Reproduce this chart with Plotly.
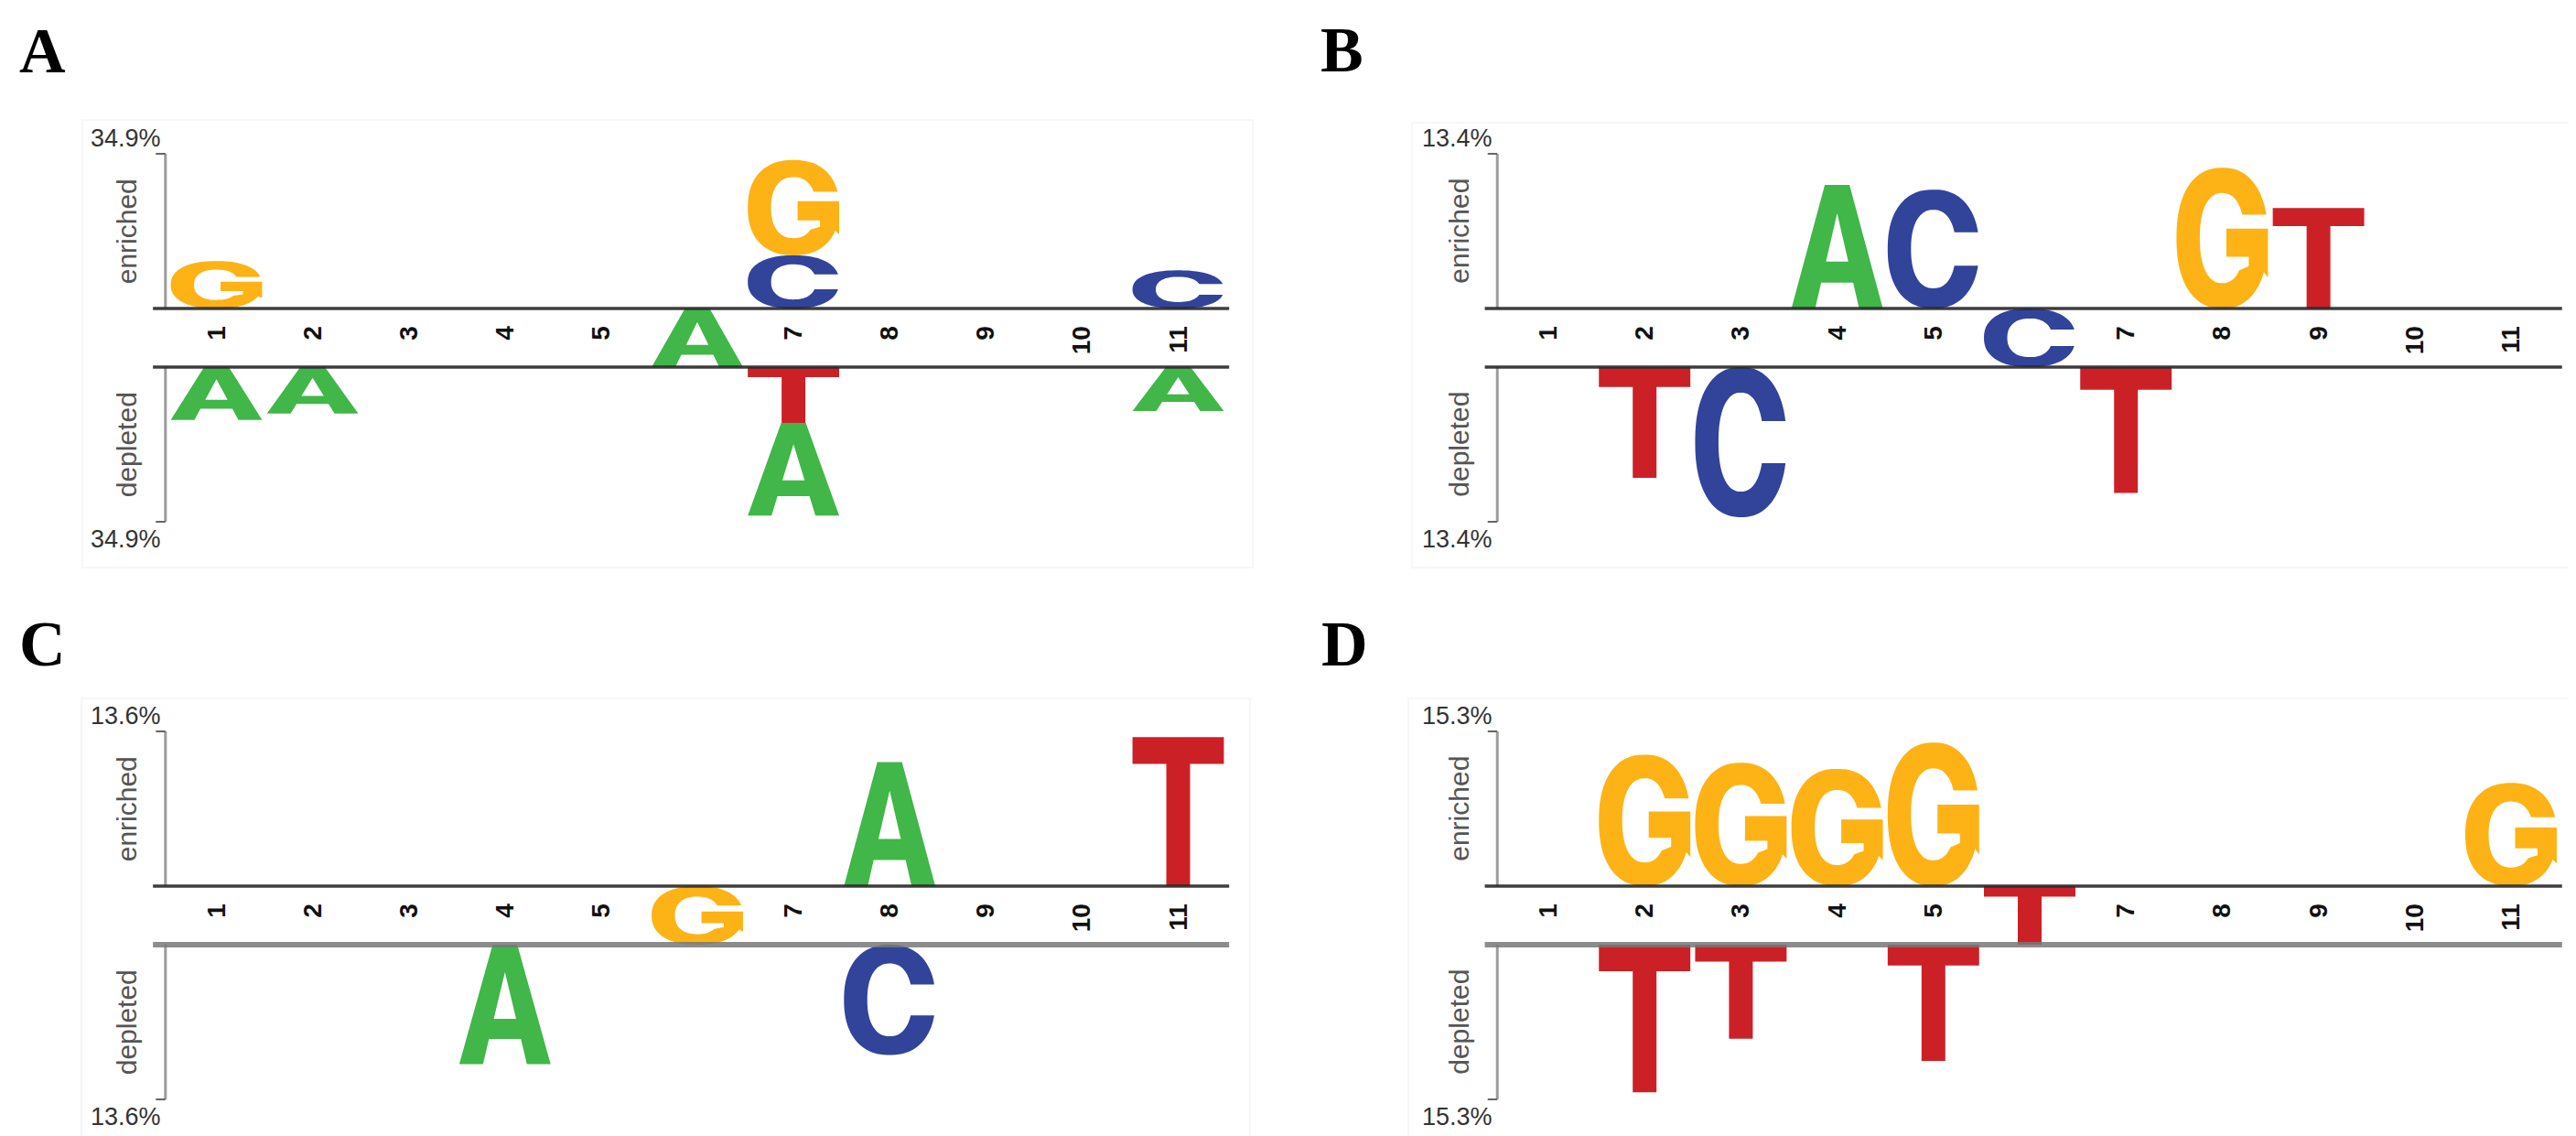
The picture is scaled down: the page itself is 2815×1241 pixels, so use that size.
import numpy as np
import plotly.graph_objects as go

# ---------------- data ----------------
positions = list(range(1, 12))
tick_labels = [str(p) for p in positions]
panel_letters = ["A", "B", "C", "D"]
scale_max = [34.9, 13.4, 13.6, 15.3]
scale_text = ["34.9%", "13.4%", "13.6%", "15.3%"]
fixed_pos = 6
fixed_res = ["A", "C", "G", "T"]

a_up_pos = [1, 7, 7, 11]
a_up_res = ["G", "C", "G", "C"]
a_up_val = [10.7, 12.0, 21.5, 8.6]
a_dn_pos = [1, 2, 7, 7, 11]
a_dn_res = ["A", "A", "T", "A", "A"]
a_dn_val = [11.9, 10.5, 12.6, 20.9, 9.9]

b_up_pos = [4, 5, 8, 9]
b_up_res = ["A", "C", "G", "T"]
b_up_val = [10.7, 10.3, 12.2, 8.7]
b_dn_pos = [2, 3, 7]
b_dn_res = ["T", "C", "T"]
b_dn_val = [9.6, 13.0, 10.9]

c_up_pos = [8, 11]
c_up_res = ["A", "T"]
c_up_val = [10.9, 13.1]
c_dn_pos = [4, 8]
c_dn_res = ["A", "C"]
c_dn_val = [10.5, 9.7]

d_up_pos = [2, 3, 4, 5, 11]
d_up_res = ["G", "G", "G", "G", "G"]
d_up_val = [13.0, 12.2, 11.6, 14.2, 10.2]
d_dn_pos = [2, 3, 5]
d_dn_res = ["T", "T", "T"]
d_dn_val = [14.6, 9.3, 11.5]

enriched = [(a_up_pos, a_up_res, a_up_val), (b_up_pos, b_up_res, b_up_val),
            (c_up_pos, c_up_res, c_up_val), (d_up_pos, d_up_res, d_up_val)]
depleted = [(a_dn_pos, a_dn_res, a_dn_val), (b_dn_pos, b_dn_res, b_dn_val),
            (c_dn_pos, c_dn_res, c_dn_val), (d_dn_pos, d_dn_res, d_dn_val)]

colors = {"A": "#41b649", "C": "#32439a", "G": "#fdb316", "T": "#cc2027"}

# ---------------- glyph templates (unit box) ----------------
NEXP = 2.3


def se(rx, ry, t):
    c, s = np.cos(t), np.sin(t)
    return (0.5 + rx * np.sign(c) * np.abs(c) ** (2 / NEXP),
            0.5 + ry * np.sign(s) * np.abs(s) ** (2 / NEXP))


def se_angle(r, dy):
    return float(np.arcsin(min(1.0, dy / r) ** (NEXP / 2)))


def glyph(res):
    if res == "T":
        return [(np.array([0, 1, 1, 0.63, 0.63, 0.37, 0.37, 0]),
                 np.array([1, 1, 0.82, 0.82, 0, 0, 0.82, 0.82]))]
    if res == "A":
        outer = (np.array([0, 0.365, 0.635, 1, 0.74, 0.675, 0.325, 0.26]),
                 np.array([0, 1, 1, 0, 0, 0.21, 0.21, 0]))
        hole = (np.array([0.378, 0.5, 0.622]), np.array([0.38, 0.77, 0.38]))
        return [outer, hole]
    if res == "C":
        to = se_angle(0.5, 0.14)
        ti = se_angle(0.33, 0.14)
        ox, oy = se(0.5, 0.5, np.linspace(to, 2 * np.pi - to, 90))
        ix, iy = se(0.245, 0.33, np.linspace(2 * np.pi - ti, ti, 70))
        return [(np.concatenate([ox, ix]), np.concatenate([oy, iy]))]
    if res == "G":
        to = se_angle(0.5, 0.167)
        ti = se_angle(0.32, 0.167)
        ox, oy = se(0.5, 0.5, np.linspace(to, 2 * np.pi - 0.45, 90))
        bx = np.array([1.0, 1.0, 0.545, 0.545, 0.79, 0.79])
        by = np.array([0.22, 0.567, 0.567, 0.367, 0.367, 0.30])
        ix, iy = se(0.245, 0.32, np.linspace(-0.75, ti - 2 * np.pi, 70))
        return [(np.concatenate([ox, bx, ix]), np.concatenate([oy, by, iy]))]
    return []


def letter_path(res, xc, w, y0, h):
    parts = []
    for u, v in glyph(res):
        xs = xc - w / 2 + u * w
        ys = y0 + v * h
        pts = [f"{x:.4f},{y:.4f}" for x, y in zip(xs, ys)]
        parts.append("M " + " L ".join(pts) + " Z")
    return " ".join(parts)


# ---------------- geometry (pixels of the 2815x1241 canvas) ----------------
W, H = 2815, 1241
col_pos1_px = [228.5, 1684.0]
col_step_px = [105.1, 105.2]
row_top_px = [160.0, 791.0]
unit_px = 169.0
band_px = 64.0
XR = [0.25, 11.55]
AXIS_X = 0.47
BASE_END = 11.53
LW = 0.95
PAD = 0.015

# the fixed middle residue covers its own position number
shown_vals = [p for p in positions if p != fixed_pos]
shown_text = [t for p, t in zip(positions, tick_labels) if p != fixed_pos]

fig = go.Figure()
shapes = []
annotations = []
layout_axes = {}

for k in range(4):
    col, row = k % 2, k // 2
    M = scale_max[k]
    B = M * band_px / unit_px
    xn = "x" if k == 0 else f"x{k+1}"
    yn = "y" if k == 0 else f"y{k+1}"
    xkey = "xaxis" if k == 0 else f"xaxis{k+1}"
    ykey = "yaxis" if k == 0 else f"yaxis{k+1}"

    p1, st = col_pos1_px[col], col_step_px[col]
    xdom = [(p1 + (XR[0] - 1) * st) / W, (p1 + (XR[1] - 1) * st) / W]
    top = row_top_px[row]
    ydom = [1 - (top + 2 * unit_px + band_px + PAD * unit_px) / H,
            1 - (top - PAD * unit_px) / H]
    base_paper = 1 - (top + unit_px) / H

    layout_axes[xkey] = dict(
        domain=xdom, range=XR, anchor="free", position=base_paper,
        tickmode="array", tickvals=shown_vals, ticktext=shown_text,
        tickangle=-90, ticks="outside", ticklen=7, tickcolor="rgba(0,0,0,0)",
        tickfont=dict(family="Liberation Sans, Arial, sans-serif", size=28,
                      color="#111111", weight="bold"),
        showgrid=False, zeroline=False, showline=False, fixedrange=True)
    layout_axes[ykey] = dict(
        domain=ydom, range=[-(B + M) - PAD * M, M + PAD * M], anchor=xn,
        visible=False, fixedrange=True)

    # invisible anchor trace for the subplot
    fig.add_trace(go.Scatter(x=positions, y=[0] * len(positions), xaxis=xn, yaxis=yn,
                             mode="markers", marker=dict(opacity=0), hoverinfo="skip",
                             showlegend=False))

    # enriched letters (stacked upward from upper baseline, smallest first)
    ppos, pres, pval = enriched[k]
    for p in positions:
        items = sorted([(v, r) for q, r, v in zip(ppos, pres, pval) if q == p])
        y0 = 0.0
        for v, r in items:
            shapes.append(dict(type="path", path=letter_path(r, p, LW, y0, v),
                               xref=xn, yref=yn, fillcolor=colors[r],
                               line=dict(width=0), layer="above"))
            y0 += v

    # depleted letters (stacked downward from lower baseline, smallest first)
    ppos, pres, pval = depleted[k]
    for p in positions:
        items = sorted([(v, r) for q, r, v in zip(ppos, pres, pval) if q == p])
        y1 = -B
        for v, r in items:
            shapes.append(dict(type="path", path=letter_path(r, p, LW, y1 - v, v),
                               xref=xn, yref=yn, fillcolor=colors[r],
                               line=dict(width=0), layer="above"))
            y1 -= v

    # fixed residue in the middle band
    r = fixed_res[k]
    shapes.append(dict(type="path", path=letter_path(r, fixed_pos, LW, -B, B),
                       xref=xn, yref=yn, fillcolor=colors[r],
                       line=dict(width=0), layer="above"))

    # axes lines
    shapes.append(dict(type="line", xref=xn, yref=yn, x0=AXIS_X, x1=AXIS_X, y0=0, y1=M,
                       line=dict(color="#9c9c9c", width=3), layer="above"))
    shapes.append(dict(type="line", xref=xn, yref=yn, x0=AXIS_X, x1=AXIS_X, y0=-B,
                       y1=-(B + M), line=dict(color="#9c9c9c", width=3), layer="above"))
    for yy in (M, -(B + M)):
        shapes.append(dict(type="line", xref=xn, yref=yn, x0=AXIS_X - 0.1, x1=AXIS_X,
                           y0=yy, y1=yy, line=dict(color="#666666", width=2),
                           layer="above"))
    # baselines
    upper_col = "rgba(40,40,40,0.9)"
    lower_col = "rgba(40,40,40,0.9)" if row == 0 else "rgba(120,120,120,0.85)"
    lower_w = 3.5 if row == 0 else 6
    shapes.append(dict(type="line", xref=xn, yref=yn, x0=AXIS_X - 0.13, x1=BASE_END,
                       y0=0, y1=0, line=dict(color=upper_col, width=3.5), layer="above"))
    shapes.append(dict(type="line", xref=xn, yref=yn, x0=AXIS_X - 0.13, x1=BASE_END,
                       y0=-B, y1=-B, line=dict(color=lower_col, width=lower_w),
                       layer="above"))

    # scale labels
    sfont = dict(family="Liberation Sans Narrow, Liberation Sans, Arial, sans-serif",
                 size=27, color="#333333")
    annotations.append(dict(x=AXIS_X, y=M, xref=xn, yref=yn, text=scale_text[k],
                            showarrow=False, xanchor="right", yanchor="bottom",
                            xshift=-3, yshift=0, font=sfont))
    annotations.append(dict(x=AXIS_X, y=-(B + M), xref=xn, yref=yn, text=scale_text[k],
                            showarrow=False, xanchor="right", yanchor="top",
                            xshift=-3, yshift=-2, font=sfont))
    lfont = dict(family="Liberation Sans, Arial, sans-serif", size=30, color="#555555")
    annotations.append(dict(x=AXIS_X, y=M / 2, xref=xn, yref=yn, text="enriched",
                            showarrow=False, textangle=-90, xshift=-42, font=lfont))
    annotations.append(dict(x=AXIS_X, y=-B - M / 2, xref=xn, yref=yn, text="depleted",
                            showarrow=False, textangle=-90, xshift=-42, font=lfont))

# panel letters
label_px = [(38, 47), (1459, 46), (38, 695), (1461, 695)]
for k, (lx, ly) in enumerate(label_px):
    annotations.append(dict(x=lx / W, y=1 - ly / H, xref="paper", yref="paper",
                            text=f"<b>{panel_letters[k]}</b>", showarrow=False,
                            xanchor="center", yanchor="middle",
                            font=dict(family="Liberation Serif, Times New Roman, serif",
                                      size=70, color="#000000")))

# faint frames around each logo
frames_px = [(82, 123, 1361, 612), (1535, 126, 2812, 612),
             (81, 755, 1358, 1238), (1531, 755, 2812, 1238)]
for x0, y0, x1, y1 in frames_px:
    shapes.append(dict(type="rect", xref="paper", yref="paper",
                       x0=x0 / W, x1=x1 / W, y0=1 - y1 / H, y1=1 - y0 / H,
                       line=dict(color="#f7f7f7", width=2), fillcolor="rgba(0,0,0,0)",
                       layer="below"))

fig.update_layout(
    width=W, height=H, autosize=False,
    margin=dict(l=0, r=0, t=0, b=0),
    paper_bgcolor="white", plot_bgcolor="rgba(0,0,0,0)",
    showlegend=False, shapes=shapes, annotations=annotations,
    **layout_axes)

fig.write_html("out.html")
